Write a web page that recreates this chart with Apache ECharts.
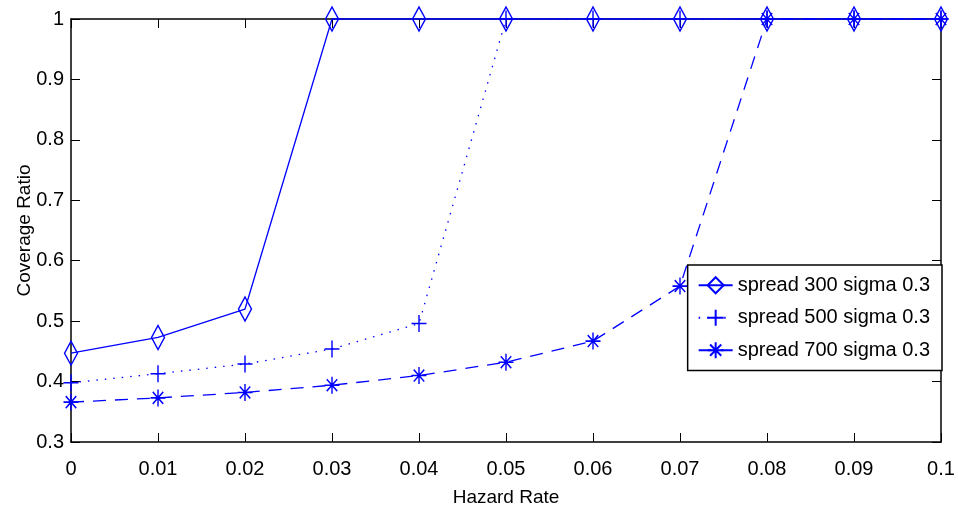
<!DOCTYPE html>
<html>
  <head>
    <title>Coverage Ratio vs Hazard Rate</title>
    <style>
      html, body {
        margin: 0;
        padding: 0;
        width: 100%;
        height: 100%;
        background: #fff;
      }
      #container {
        width: 958px;
        height: 521px;
      }
    </style>
  </head>
  <body>
    <div id="container"></div>
    <script src="https://cdn.jsdelivr.net/npm/echarts@6/dist/echarts.min.js"></script>
    <script type="text/javascript">

      const hazardRates = [0, 0.01, 0.02, 0.03, 0.04, 0.05, 0.06, 0.07, 0.08, 0.09, 0.1];
      const seriesNames = ['spread 300 sigma 0.3', 'spread 500 sigma 0.3', 'spread 700 sigma 0.3'];
      const spread300 = [0.447, 0.473, 0.52, 1, 1, 1, 1, 1, 1, 1, 1];
      const spread500 = [0.398, 0.413, 0.429, 0.454, 0.496, 1, 1, 1, 1, 1, 1];
      const spread700 = [0.366, 0.373, 0.382, 0.394, 0.41, 0.432, 0.467, 0.558, 1, 1, 1];

      const font = "'Liberation Sans', Arial, sans-serif";
      const blue = '#0000ff';

      // open marker shapes, stroked only
      const diamondPath = 'path://M6 0 L12 12 L6 24 L0 12 Z';
      const plusPath = 'path://M10 0 L10 20 M0 10 L20 10';
      const starPath = 'path://M10 0 L10 20 M0 10 L20 10 M3 3 L17 17 M3 17 L17 3';

      const pairs = vals => hazardRates.map((x, i) => [x, vals[i]]);

      const fmt = v => String(Math.round(v * 100) / 100);

      const boxAxis = (pos, isX, showLabels) => ({
        type: 'value',
        position: pos,
        min: isX ? 0 : 0.3,
        max: isX ? 0.1 : 1,
        interval: isX ? 0.01 : 0.1,
        splitLine: { show: false },
        axisLine: { show: true, onZero: false, lineStyle: { color: '#000', width: 1.5 } },
        axisTick: { show: true, inside: true, length: 9, lineStyle: { color: '#000', width: 1 } },
        axisLabel: {
          show: showLabels,
          formatter: fmt,
          color: '#000',
          fontSize: 20,
          fontFamily: font,
          margin: isX ? 10 : 7
        }
      });

      const xMain = Object.assign(boxAxis('bottom', true, true), {
        name: 'Hazard Rate',
        nameLocation: 'middle',
        nameGap: 39,
        nameMoveOverlap: false,
        nameTextStyle: { color: '#000', fontSize: 19, fontFamily: font }
      });
      const yMain = Object.assign(boxAxis('left', false, true), {
        name: 'Coverage Ratio',
        nameLocation: 'middle',
        nameGap: 30,
        nameMoveOverlap: false,
        nameTextStyle: { color: '#000', fontSize: 19, fontFamily: font }
      });

      const makeSeries = (name, vals, symbol, size, dash) => ({
        name: name,
        type: 'line',
        xAxisIndex: 0,
        yAxisIndex: 0,
        data: pairs(vals),
        clip: false,
        symbol: symbol,
        symbolSize: size,
        showAllSymbol: true,
        lineStyle: { color: blue, width: 1.3, type: dash },
        itemStyle: { color: 'rgba(0,0,0,0)', borderColor: blue, borderWidth: 1.5 },
        emphasis: { disabled: true },
        z: 3
      });

      const option = {
        animation: false,
        backgroundColor: '#fff',
        grid: { left: 71, right: 17, top: 19, bottom: 79, outerBoundsMode: 'none' },
        xAxis: [xMain, boxAxis('top', true, false)],
        yAxis: [yMain, boxAxis('right', false, false)],
        legend: {
          data: seriesNames,
          orient: 'vertical',
          right: 16,
          top: 265,
          padding: [3, 12, 3, 10],
          itemWidth: 34,
          itemHeight: 20,
          itemGap: -2,
          backgroundColor: '#fff',
          borderColor: '#000',
          borderWidth: 1.5,
          borderRadius: 0,
          textStyle: { color: '#000', fontSize: 20, fontFamily: font },
          z: 10
        },
        series: [
          makeSeries(seriesNames[0], spread300, diamondPath, [13, 24], 'solid'),
          makeSeries(seriesNames[1], spread500, plusPath, [15, 17], [1.5, 7]),
          makeSeries(seriesNames[2], spread700, starPath, [15, 17], [13, 9])
        ]
      };

      const chart = echarts.init(document.getElementById('container'));
      chart.setOption(option);
    </script>
  </body>
</html>
